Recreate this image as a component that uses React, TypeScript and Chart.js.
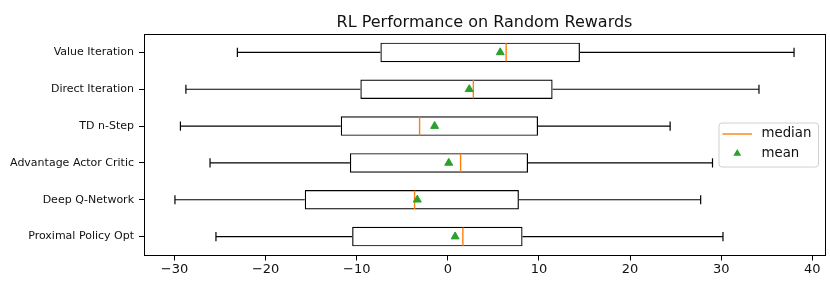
import React, { useEffect, useRef } from 'react';
import { Chart, registerables } from 'chart.js';

Chart.register(...registerables);

// ---- data (top row first) ----
const categories = [
  'Value Iteration',
  'Direct Iteration',
  'TD n-Step',
  'Advantage Actor Critic',
  'Deep Q-Network',
  'Proximal Policy Opt',
];
const whiskerLow = [-23.1, -28.75, -29.35, -26.1, -29.95, -25.45];
const q1 = [-7.4, -9.6, -11.75, -10.75, -15.7, -10.5];
const median = [6.4, 2.8, -3.1, 1.4, -3.65, 1.65];
const mean = [5.75, 2.35, -1.45, 0.1, -3.35, 0.8];
const q3 = [14.5, 11.5, 9.9, 8.8, 7.8, 8.2];
const whiskerHigh = [38.0, 34.15, 24.4, 29.05, 27.75, 30.2];
const xTicks = [-30, -20, -10, 0, 10, 20, 30, 40];
const titleText = 'RL Performance on Random Rewards';
const legendLabels = ['median', 'mean'];

const FONT = "'DejaVu Sans', sans-serif";
const TEXT = '#111';
const MEDIAN_COLOR = '#ff7f0e';
const MEAN_COLOR = '#2ca02c';
const TICK_LEN = 5;

const align = (p: number) => Math.round(p - 0.5) + 0.5;

export default function App() {
  const ref = useRef<HTMLCanvasElement>(null);

  useEffect(() => {
    document.body.style.margin = '0';
    const canvas = ref.current;
    if (!canvas) return;
    const n = categories.length;
    const pos = (i: number) => n - i;
    const lo = Math.min(...whiskerLow);
    const hi = Math.max(...whiskerHigh);
    const pad = 0.05 * (hi - lo);

    const datasets: any[] = [];
    datasets.push({
      type: 'scatter',
      label: 'mean',
      data: mean.map((v, i) => ({ x: v, y: pos(i) })),
      pointStyle: 'triangle',
      pointRadius: 4.6,
      pointHoverRadius: 4.6,
      backgroundColor: MEAN_COLOR,
      borderColor: MEAN_COLOR,
      borderWidth: 1,
      order: 0,
    });
    datasets.push({
      type: 'scatter',
      label: 'median',
      data: median.map((v, i) => ({ x: v, y: pos(i) })),
      pointStyle: 'line',
      rotation: 90,
      pointRadius: 9.2,
      pointHoverRadius: 9.2,
      borderColor: MEDIAN_COLOR,
      borderWidth: 1.4,
      order: 1,
    });
    datasets.push({
      type: 'scatter',
      label: 'caps',
      data: [
        ...whiskerLow.map((v, i) => ({ x: v, y: pos(i) })),
        ...whiskerHigh.map((v, i) => ({ x: v, y: pos(i) })),
      ],
      pointStyle: 'line',
      rotation: 90,
      pointRadius: 4.6,
      pointHoverRadius: 4.6,
      borderColor: '#000',
      borderWidth: 1.2,
      order: 2,
    });
    categories.forEach((_, i) => {
      datasets.push({
        type: 'scatter',
        label: 'whisker-low',
        showLine: true,
        data: [
          { x: whiskerLow[i], y: pos(i) },
          { x: q1[i], y: pos(i) },
        ],
        pointRadius: 0,
        pointHoverRadius: 0,
        borderColor: '#000',
        borderWidth: 1.2,
        order: 3,
      });
      datasets.push({
        type: 'scatter',
        label: 'whisker-high',
        showLine: true,
        data: [
          { x: q3[i], y: pos(i) },
          { x: whiskerHigh[i], y: pos(i) },
        ],
        pointRadius: 0,
        pointHoverRadius: 0,
        borderColor: '#000',
        borderWidth: 1.2,
        order: 3,
      });
    });
    datasets.push({
      type: 'bar',
      label: 'box',
      indexAxis: 'y',
      data: categories.map((_, i) => ({ x: [q1[i], q3[i]], y: pos(i) })),
      backgroundColor: 'rgba(255,255,255,0)',
      borderColor: '#000',
      borderWidth: 1.2,
      borderSkipped: false,
      barPercentage: 0.53,
      categoryPercentage: 1,
      order: 4,
    });

    const decorPlugin = {
      id: 'decor',
      afterDraw(chart: any) {
        const { ctx, chartArea } = chart;
        const { left, right, top, bottom } = chartArea;
        const xs = chart.scales.x;
        const ys = chart.scales.y;
        ctx.save();
        // frame
        ctx.strokeStyle = '#000';
        ctx.lineWidth = 1;
        ctx.strokeRect(align(left), align(top), align(right) - align(left), align(bottom) - align(top));
        // tick marks
        ctx.beginPath();
        xs.ticks.forEach((t: any) => {
          const px = align(xs.getPixelForValue(t.value));
          ctx.moveTo(px, align(bottom));
          ctx.lineTo(px, align(bottom) + TICK_LEN);
        });
        ys.ticks.forEach((t: any) => {
          const py = align(ys.getPixelForValue(t.value));
          ctx.moveTo(align(left), py);
          ctx.lineTo(align(left) - TICK_LEN, py);
        });
        ctx.stroke();
        // title
        ctx.fillStyle = TEXT;
        ctx.font = `16px ${FONT}`;
        ctx.textAlign = 'center';
        ctx.textBaseline = 'alphabetic';
        ctx.fillText(titleText, (left + right) / 2, top - 7.3);
        // legend
        const w = 99.5;
        const h = 44;
        const bx = right - 7 - w;
        const by = (top + bottom) / 2 - h / 2;
        ctx.beginPath();
        ctx.roundRect(bx + 0.5, by + 0.5, w, h, 3);
        ctx.fillStyle = 'rgba(255,255,255,0.8)';
        ctx.fill();
        ctx.strokeStyle = '#d0d0d0';
        ctx.lineWidth = 1;
        ctx.stroke();
        const row1 = by + 11.5;
        const row2 = by + 31;
        const hx0 = bx + 4;
        const hx1 = bx + 33.5;
        ctx.beginPath();
        ctx.moveTo(hx0, row1);
        ctx.lineTo(hx1, row1);
        ctx.strokeStyle = MEDIAN_COLOR;
        ctx.lineWidth = 1.4;
        ctx.stroke();
        const tx = (hx0 + hx1) / 2;
        const r = 4.6;
        ctx.beginPath();
        ctx.moveTo(tx, row2 - r);
        ctx.lineTo(tx + r * 0.866, row2 + r / 2);
        ctx.lineTo(tx - r * 0.866, row2 + r / 2);
        ctx.closePath();
        ctx.fillStyle = MEAN_COLOR;
        ctx.fill();
        ctx.fillStyle = TEXT;
        ctx.font = `13.3px ${FONT}`;
        ctx.textAlign = 'left';
        ctx.textBaseline = 'middle';
        ctx.fillText(legendLabels[0], bx + 43, row1);
        ctx.fillText(legendLabels[1], bx + 43, row2);
        ctx.restore();
      },
    };

    const tickGrid = {
      offset: false,
      drawOnChartArea: false,
      drawTicks: true,
      tickLength: TICK_LEN,
      color: '#000',
      lineWidth: 1,
    };

    const chart = new Chart(canvas, {
      type: 'scatter',
      data: { datasets },
      options: {
        animation: false,
        responsive: false,
        devicePixelRatio: 1,
        events: [],
        layout: { autoPadding: false, padding: { top: 34, right: 5, bottom: 0, left: 0 } },
        plugins: {
          legend: { display: false },
          title: { display: false },
          tooltip: { enabled: false },
        },
        scales: {
          x: {
            type: 'linear',
            min: lo - pad,
            max: hi + pad,
            afterBuildTicks: (s: any) => {
              s.ticks = xTicks.map((v) => ({ value: v }));
            },
            afterFit: (s: any) => {
              s.height = 26;
              s.paddingLeft = 0;
              s.paddingRight = 0;
            },
            border: { color: '#000' },
            grid: { ...tickGrid },
            ticks: {
              autoSkip: false,
              maxRotation: 0,
              padding: 2,
              color: TEXT,
              font: { family: FONT, size: 13 },
              callback: (v: any) => (v < 0 ? '\u2212' + Math.abs(v) : String(v)),
            },
          },
          y: {
            type: 'linear',
            min: 0.5,
            max: n + 0.5,
            offset: false,
            afterBuildTicks: (s: any) => {
              s.ticks = categories.map((_, i) => ({ value: pos(i) }));
            },
            afterFit: (s: any) => {
              s.width = 144;
            },
            border: { color: '#000' },
            grid: { ...tickGrid },
            ticks: {
              autoSkip: false,
              padding: 5,
              color: TEXT,
              font: { family: FONT, size: 11 },
              callback: (v: any) => categories[n - v] ?? '',
            },
          },
        },
      } as any,
      plugins: [decorPlugin],
    });

    return () => {
      chart.destroy();
    };
  }, []);

  return (
    <div style={{ width: 830, height: 281, position: 'relative', background: '#fff' }}>
      <canvas ref={ref} width={830} height={281} style={{ display: 'block' }} />
    </div>
  );
}
